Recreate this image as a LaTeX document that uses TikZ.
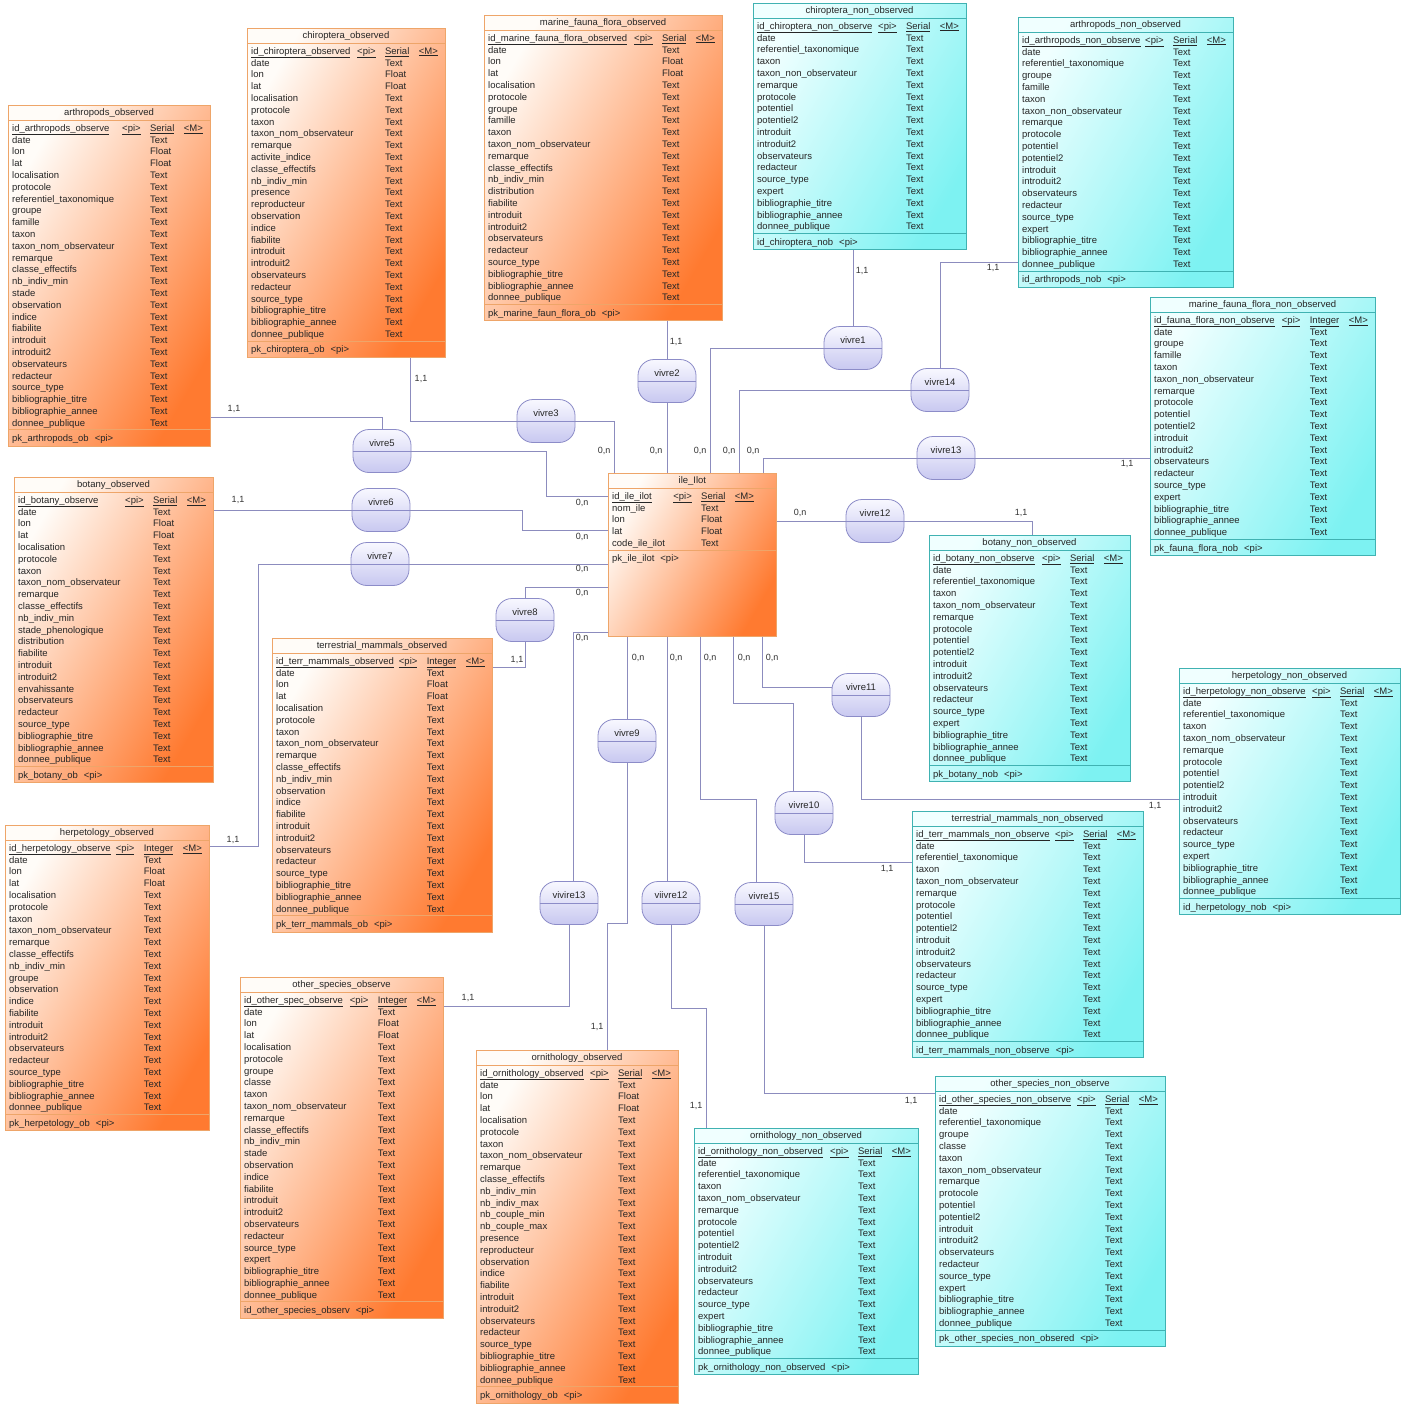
\documentclass[tikz,border=0pt]{standalone}
\usepackage{fontspec}
\setmainfont{Liberation Sans}

\definecolor{obsA}{RGB}{255,252,248}
\definecolor{obsB}{RGB}{255,122,48}
\definecolor{obsLine}{RGB}{238,165,105}
\definecolor{nobA}{RGB}{240,255,255}
\definecolor{nobB}{RGB}{125,242,242}
\definecolor{nobLine}{RGB}{64,178,178}
\definecolor{relA}{RGB}{248,248,255}
\definecolor{relB}{RGB}{200,200,240}
\definecolor{relLine}{RGB}{140,140,200}
\definecolor{linkCol}{RGB}{140,140,190}

% one table: name, colours, x, y, width, title, key/type, attributes, pk
\newcommand{\dbtable}[9]{%
  \foreach \fld/\typ [count=\ro] in {#8} {\xdef\nrows{\ro}}%
  \pgfmathsetmacro{\tblh}{34+11.8*(\nrows+1)}%
  \pgfmathsetmacro{\sepy}{18+11.8*(\nrows+1)}%
  \begin{scope}[shift={(#3,#4)}]
    \node[tbl, #2, minimum width=#5, minimum height=\tblh] (#1) at (0,0) {};
    \draw[#2 rule] (0,15) -- (#5,15);
    \draw[#2 rule] (0,\sepy) -- (#5,\sepy);
    \node[tbltxt, anchor=base] (#1title) at (#5/2,10.9) {#6};
    \node[tbltxt, anchor=base east] (#1M) at (#5-7,26.3) {\underline{<M>}};
    \foreach \fld/\typ in {#7} {
      \node[tbltxt, anchor=base west] (#1id) at (4,26.3) {\underline{\fld}};
      \node[tbltxt, anchor=base east] (#1T) at ([xshift=-9pt]#1M.base west) {\underline{\typ}};
      \node[tbltxt, anchor=base east] (#1pi) at ([xshift=-9pt]#1T.base west) {\underline{<pi>}};
    }
    \foreach \fld/\typ [count=\ro] in {#8} {
      \pgfmathsetmacro{\rowy}{26.3+11.8*\ro}
      \node[tbltxt, anchor=base west] (#1f\ro) at (4,\rowy) {\fld};
      \node[tbltxt, anchor=base west] (#1t\ro) at (#1T.base west |- 0,\rowy) {\typ};
    }
    \node[tbltxt, anchor=base west] (#1pk) at (4,\sepy+11.9) {#9\hspace{6pt}<pi>};
  \end{scope}
}

\begin{document}
\catcode`\_=12
\begin{tikzpicture}[x=1pt, y=-1pt]

% Define styles for tables, relations and links
\tikzstyle{tbl} = [draw, anchor=north west, inner sep=0pt, line width=0.8pt]
\tikzstyle{obs} = [draw=obsLine, top color=obsA, bottom color=obsB, shading angle=60]
\tikzstyle{nob} = [draw=nobLine, top color=nobA, bottom color=nobB, shading angle=60]
\tikzstyle{obs rule} = [draw=obsLine, line width=0.8pt]
\tikzstyle{nob rule} = [draw=nobLine, line width=0.8pt]
\tikzstyle{tbltxt} = [inner sep=0pt, font=\fontsize{9.5}{11}\selectfont, text=black!85]
\tikzstyle{rel} = [draw=relLine, line width=0.8pt, rounded corners=16pt, minimum width=58pt,
  minimum height=43pt, top color=relA, bottom color=relB, inner sep=0pt,
  text height=7pt, text depth=17pt, font=\fontsize{9.5}{11}\selectfont, text=black!85]
\tikzstyle{rel rule} = [draw=relLine, line width=0.8pt]
\tikzstyle{link} = [draw=linkCol, line width=0.8pt]
\tikzstyle{card} = [inner sep=0pt, font=\fontsize{9}{10}\selectfont, text=black!80]

\fill[white] (0,0) rectangle (1409,1405);
\useasboundingbox (0,0) rectangle (1409,1405);

% observed tables
\dbtable{arthObs}{obs}{8}{105}{202}{arthropods_observed}{id_arthropods_observe/Serial}
  {date/Text, lon/Float, lat/Float, localisation/Text, protocole/Text, referentiel_taxonomique/Text,
   groupe/Text, famille/Text, taxon/Text, taxon_nom_observateur/Text, remarque/Text,
   classe_effectifs/Text, nb_indiv_min/Text, stade/Text, observation/Text, indice/Text,
   fiabilite/Text, introduit/Text, introduit2/Text, observateurs/Text, redacteur/Text,
   source_type/Text, bibliographie_titre/Text, bibliographie_annee/Text, donnee_publique/Text}
  {pk_arthropods_ob}
\dbtable{chiroObs}{obs}{247}{28}{198}{chiroptera_observed}{id_chiroptera_observed/Serial}
  {date/Text, lon/Float, lat/Float, localisation/Text, protocole/Text, taxon/Text,
   taxon_nom_observateur/Text, remarque/Text, activite_indice/Text, classe_effectifs/Text,
   nb_indiv_min/Text, presence/Text, reproducteur/Text, observation/Text, indice/Text,
   fiabilite/Text, introduit/Text, introduit2/Text, observateurs/Text, redacteur/Text,
   source_type/Text, bibliographie_titre/Text, bibliographie_annee/Text, donnee_publique/Text}
  {pk_chiroptera_ob}
\dbtable{marineObs}{obs}{484}{15}{238}{marine_fauna_flora_observed}{id_marine_fauna_flora_observed/Serial}
  {date/Text, lon/Float, lat/Float, localisation/Text, protocole/Text, groupe/Text, famille/Text,
   taxon/Text, taxon_nom_observateur/Text, remarque/Text, classe_effectifs/Text,
   nb_indiv_min/Text, distribution/Text, fiabilite/Text, introduit/Text, introduit2/Text,
   observateurs/Text, redacteur/Text, source_type/Text, bibliographie_titre/Text,
   bibliographie_annee/Text, donnee_publique/Text}
  {pk_marine_faun_flora_ob}
\dbtable{botObs}{obs}{14}{477}{199}{botany_observed}{id_botany_observe/Serial}
  {date/Text, lon/Float, lat/Float, localisation/Text, protocole/Text, taxon/Text,
   taxon_nom_observateur/Text, remarque/Text, classe_effectifs/Text, nb_indiv_min/Text,
   stade_phenologique/Text, distribution/Text, fiabilite/Text, introduit/Text, introduit2/Text,
   envahissante/Text, observateurs/Text, redacteur/Text, source_type/Text,
   bibliographie_titre/Text, bibliographie_annee/Text, donnee_publique/Text}
  {pk_botany_ob}
\dbtable{terrObs}{obs}{272}{638}{220}{terrestrial_mammals_observed}{id_terr_mammals_observed/Integer}
  {date/Text, lon/Float, lat/Float, localisation/Text, protocole/Text, taxon/Text,
   taxon_nom_observateur/Text, remarque/Text, classe_effectifs/Text, nb_indiv_min/Text,
   observation/Text, indice/Text, fiabilite/Text, introduit/Text, introduit2/Text,
   observateurs/Text, redacteur/Text, source_type/Text, bibliographie_titre/Text,
   bibliographie_annee/Text, donnee_publique/Text}
  {pk_terr_mammals_ob}
\dbtable{herpObs}{obs}{5}{825}{204}{herpetology_observed}{id_herpetology_observe/Integer}
  {date/Text, lon/Float, lat/Float, localisation/Text, protocole/Text, taxon/Text,
   taxon_nom_observateur/Text, remarque/Text, classe_effectifs/Text, nb_indiv_min/Text,
   groupe/Text, observation/Text, indice/Text, fiabilite/Text, introduit/Text, introduit2/Text,
   observateurs/Text, redacteur/Text, source_type/Text, bibliographie_titre/Text,
   bibliographie_annee/Text, donnee_publique/Text}
  {pk_herpetology_ob}
\dbtable{otherObs}{obs}{240}{977}{203}{other_species_observe}{id_other_spec_observe/Integer}
  {date/Text, lon/Float, lat/Float, localisation/Text, protocole/Text, groupe/Text, classe/Text,
   taxon/Text, taxon_nom_observateur/Text, remarque/Text, classe_effectifs/Text,
   nb_indiv_min/Text, stade/Text, observation/Text, indice/Text, fiabilite/Text,
   introduit/Text, introduit2/Text, observateurs/Text, redacteur/Text, source_type/Text,
   expert/Text, bibliographie_titre/Text, bibliographie_annee/Text, donnee_publique/Text}
  {id_other_species_observ}
\dbtable{ornObs}{obs}{476}{1050}{202}{ornithology_observed}{id_ornithology_observed/Serial}
  {date/Text, lon/Float, lat/Float, localisation/Text, protocole/Text, taxon/Text,
   taxon_nom_observateur/Text, remarque/Text, classe_effectifs/Text, nb_indiv_min/Text,
   nb_indiv_max/Text, nb_couple_min/Text, nb_couple_max/Text, presence/Text,
   reproducteur/Text, observation/Text, indice/Text, fiabilite/Text, introduit/Text,
   introduit2/Text, observateurs/Text, redacteur/Text, source_type/Text,
   bibliographie_titre/Text, bibliographie_annee/Text, donnee_publique/Text}
  {pk_ornithology_ob}

% non observed tables
\dbtable{chiroNob}{nob}{753}{3}{213}{chiroptera_non_observed}{id_chiroptera_non_observe/Serial}
  {date/Text, referentiel_taxonomique/Text, taxon/Text, taxon_non_observateur/Text,
   remarque/Text, protocole/Text, potentiel/Text, potentiel2/Text, introduit/Text,
   introduit2/Text, observateurs/Text, redacteur/Text, source_type/Text, expert/Text,
   bibliographie_titre/Text, bibliographie_annee/Text, donnee_publique/Text}
  {id_chiroptera_nob}
\dbtable{arthNob}{nob}{1018}{17}{215}{arthropods_non_observed}{id_arthropods_non_observe/Serial}
  {date/Text, referentiel_taxonomique/Text, groupe/Text, famille/Text, taxon/Text,
   taxon_non_observateur/Text, remarque/Text, protocole/Text, potentiel/Text, potentiel2/Text,
   introduit/Text, introduit2/Text, observateurs/Text, redacteur/Text, source_type/Text,
   expert/Text, bibliographie_titre/Text, bibliographie_annee/Text, donnee_publique/Text}
  {id_arthropods_nob}
\dbtable{marineNob}{nob}{1150}{297}{225}{marine_fauna_flora_non_observed}{id_fauna_flora_non_observe/Integer}
  {date/Text, groupe/Text, famille/Text, taxon/Text, taxon_non_observateur/Text,
   remarque/Text, protocole/Text, potentiel/Text, potentiel2/Text, introduit/Text,
   introduit2/Text, observateurs/Text, redacteur/Text, source_type/Text, expert/Text,
   bibliographie_titre/Text, bibliographie_annee/Text, donnee_publique/Text}
  {pk_fauna_flora_nob}
\dbtable{botNob}{nob}{929}{535}{201}{botany_non_observed}{id_botany_non_observe/Serial}
  {date/Text, referentiel_taxonomique/Text, taxon/Text, taxon_nom_observateur/Text,
   remarque/Text, protocole/Text, potentiel/Text, potentiel2/Text, introduit/Text,
   introduit2/Text, observateurs/Text, redacteur/Text, source_type/Text, expert/Text,
   bibliographie_titre/Text, bibliographie_annee/Text, donnee_publique/Text}
  {pk_botany_nob}
\dbtable{herpNob}{nob}{1179}{668}{221}{herpetology_non_observed}{id_herpetology_non_observe/Serial}
  {date/Text, referentiel_taxonomique/Text, taxon/Text, taxon_nom_observateur/Text,
   remarque/Text, protocole/Text, potentiel/Text, potentiel2/Text, introduit/Text,
   introduit2/Text, observateurs/Text, redacteur/Text, source_type/Text, expert/Text,
   bibliographie_titre/Text, bibliographie_annee/Text, donnee_publique/Text}
  {id_herpetology_nob}
\dbtable{terrNob}{nob}{912}{811}{231}{terrestrial_mammals_non_observed}{id_terr_mammals_non_observe/Serial}
  {date/Text, referentiel_taxonomique/Text, taxon/Text, taxon_nom_observateur/Text,
   remarque/Text, protocole/Text, potentiel/Text, potentiel2/Text, introduit/Text,
   introduit2/Text, observateurs/Text, redacteur/Text, source_type/Text, expert/Text,
   bibliographie_titre/Text, bibliographie_annee/Text, donnee_publique/Text}
  {id_terr_mammals_non_observe}
\dbtable{ornNob}{nob}{694}{1128}{224}{ornithology_non_observed}{id_ornithology_non_observed/Serial}
  {date/Text, referentiel_taxonomique/Text, taxon/Text, taxon_nom_observateur/Text,
   remarque/Text, protocole/Text, potentiel/Text, potentiel2/Text, introduit/Text,
   introduit2/Text, observateurs/Text, redacteur/Text, source_type/Text, expert/Text,
   bibliographie_titre/Text, bibliographie_annee/Text, donnee_publique/Text}
  {pk_ornithology_non_observed}
\dbtable{otherNob}{nob}{935}{1076}{230}{other_species_non_observe}{id_other_species_non_observe/Serial}
  {date/Text, referentiel_taxonomique/Text, groupe/Text, classe/Text, taxon/Text,
   taxon_nom_observateur/Text, remarque/Text, protocole/Text, potentiel/Text, potentiel2/Text,
   introduit/Text, introduit2/Text, observateurs/Text, redacteur/Text, source_type/Text,
   expert/Text, bibliographie_titre/Text, bibliographie_annee/Text, donnee_publique/Text}
  {pk_other_species_non_obsered}

% the island table in the middle
\node[tbl, obs, minimum width=168, minimum height=163] (ile) at (608,473) {};
\draw[obs rule] ([yshift=-15pt]ile.north west) -- ([yshift=-15pt]ile.north east);
\draw[obs rule] ([yshift=-77pt]ile.north west) -- ([yshift=-77pt]ile.north east);
\node[tbltxt, anchor=base] (iletitle) at ([yshift=-10.9pt]ile.north) {ile_Ilot};
\node[tbltxt, anchor=base west] (ileid) at ([xshift=4pt,yshift=-26.3pt]ile.north west) {\underline{id_ile_ilot}};
\node[tbltxt, anchor=base west] (ileT) at ([xshift=93pt,yshift=-26.3pt]ile.north west) {\underline{Serial}};
\node[tbltxt, anchor=base east] (ilepi) at ([xshift=-9pt]ileT.base west) {\underline{<pi>}};
\node[tbltxt, anchor=base west] (ileM) at ([xshift=9pt]ileT.base east) {\underline{<M>}};
\foreach \fld/\typ [count=\ro] in {nom_ile/Text, lon/Float, lat/Float, code_ile_ilot/Text} {
  \node[tbltxt, anchor=base west] (ilef\ro) at ([xshift=4pt,yshift=-26.3pt-11.8pt*\ro]ile.north west) {\fld};
  \node[tbltxt, anchor=base west] (ilet\ro) at ([yshift=-11.8pt*\ro]ileT.base west) {\typ};
}
\node[tbltxt, anchor=base west] (ilepk) at ([xshift=4pt,yshift=-88.9pt]ile.north west) {pk_ile_ilot\hspace{6pt}<pi>};

% relations
\node[rel] (v1) at (853,348) {vivre1};
\node[rel] (v2) at (667,381) {vivre2};
\node[rel] (v3) at (546,421) {vivre3};
\node[rel] (v5) at (382,451) {vivre5};
\node[rel] (v6) at (381,510) {vivre6};
\node[rel] (v7) at (380,564) {vivre7};
\node[rel] (v8) at (525,620) {vivre8};
\node[rel] (v9) at (627,741) {vivre9};
\node[rel] (v10) at (804,813) {vivre10};
\node[rel] (v11) at (861,695) {vivre11};
\node[rel] (v12) at (875,521) {vivre12};
\node[rel] (v13) at (946,458) {vivre13};
\node[rel] (v14) at (940,390) {vivre14};
\node[rel] (v13b) at (569,903) {vivire13};
\node[rel] (v12b) at (671,903) {viivre12};
\node[rel] (v15) at (764,904) {vivre15};
\foreach \r in {v1,v2,v3,v5,v6,v7,v8,v9,v10,v11,v12,v13,v14,v13b,v12b,v15}
  \draw[rel rule] (\r.west) -- (\r.east);

% links above ile_Ilot
\draw[link] (v3.west) -| (chiroObs.south -| 410,0);
\draw[link] (v3.east) -| (ile.north -| 614,0);
\draw[link] (v2.north) -- (v2.north |- marineObs.south);
\draw[link] (v2.south) -- (v2.south |- ile.north);
\draw[link] (v1.north) -- (v1.north |- chiroNob.south);
\draw[link] (v1.west) -| (ile.north -| 710,0);
\draw[link] (v14.north) |- (arthNob.west |- 0,262);
\draw[link] (v14.west) -| (ile.north -| 739,0);
\draw[link] (v13.west) -| (ile.north -| 763,0);
\draw[link] (v13.east) -- (marineNob.west |- v13.east);
\draw[link] (v12.west) -- (ile.east |- v12.west);
\draw[link] (v12.east) -| (botNob.north -| 1032,0);

% links left of ile_Ilot
\draw[link] (arthObs.east |- 0,417) -| (v5.north);
\draw[link] (v5.east) -| (546,496) -- (ile.west |- 0,496);
\draw[link] (v6.west) -- (botObs.east |- v6.west);
\draw[link] (v6.east) -| (522,530) -- (ile.west |- 0,530);
\draw[link] (v7.west) -| (258,846) -- (herpObs.east |- 0,846);
\draw[link] (v7.east) -- (ile.west |- v7.east);
\draw[link] (v8.north) |- (ile.west |- 0,587);
\draw[link] (v8.south) |- (terrObs.east |- 0,667);
\draw[link] (ile.west |- 0,632) -| (v13b.north -| 573,0);
\draw[link] (v13b.south) |- (otherObs.east |- 0,1006);

% links below ile_Ilot
\draw[link] (v9.north) -- (v9.north |- ile.south);
\draw[link] (v9.south) |- (607,923) -- (ornObs.north -| 607,0);
\draw[link] (ile.south -| 667,0) -- (v12b.north -| 667,0);
\draw[link] (v12b.south) |- (706,1008) -- (ornNob.north -| 706,0);
\draw[link] (ile.south -| 700,0) |- (756,799) -- (v15.north -| 756,0);
\draw[link] (v15.south) |- (otherNob.west |- 0,1093);
\draw[link] (ile.south -| 733,0) |- (793,703) -- (v10.north -| 793,0);
\draw[link] (v10.south) |- (terrNob.west |- 0,862);
\draw[link] (ile.south -| 762,0) |- (v11.west |- 0,687);
\draw[link] (v11.south) |- (herpNob.west |- 0,799);

% cardinalities
\node[card] (k1) at (604,451) {0,n};
\node[card] (k2) at (656,451) {0,n};
\node[card] (k3) at (700,451) {0,n};
\node[card] (k4) at (729,451) {0,n};
\node[card] (k5) at (753,451) {0,n};
\node[card] (k6) at (582,503) {0,n};
\node[card] (k7) at (582,537) {0,n};
\node[card] (k8) at (582,569) {0,n};
\node[card] (k9) at (582,593) {0,n};
\node[card] (k10) at (582,638) {0,n};
\node[card] (k11) at (800,513) {0,n};
\node[card] (k12) at (638,658) {0,n};
\node[card] (k13) at (676,658) {0,n};
\node[card] (k14) at (710,658) {0,n};
\node[card] (k15) at (744,658) {0,n};
\node[card] (k16) at (772,658) {0,n};
\node[card] (k17) at (421,379) {1,1};
\node[card] (k18) at (676,342) {1,1};
\node[card] (k19) at (862,271) {1,1};
\node[card] (k20) at (993,268) {1,1};
\node[card] (k21) at (1127,464) {1,1};
\node[card] (k22) at (1021,513) {1,1};
\node[card] (k23) at (234,409) {1,1};
\node[card] (k24) at (238,500) {1,1};
\node[card] (k25) at (233,840) {1,1};
\node[card] (k26) at (517,660) {1,1};
\node[card] (k27) at (468,998) {1,1};
\node[card] (k28) at (597,1027) {1,1};
\node[card] (k29) at (696,1106) {1,1};
\node[card] (k30) at (911,1101) {1,1};
\node[card] (k31) at (887,869) {1,1};
\node[card] (k32) at (1155,806) {1,1};
\end{tikzpicture}
\end{document}
